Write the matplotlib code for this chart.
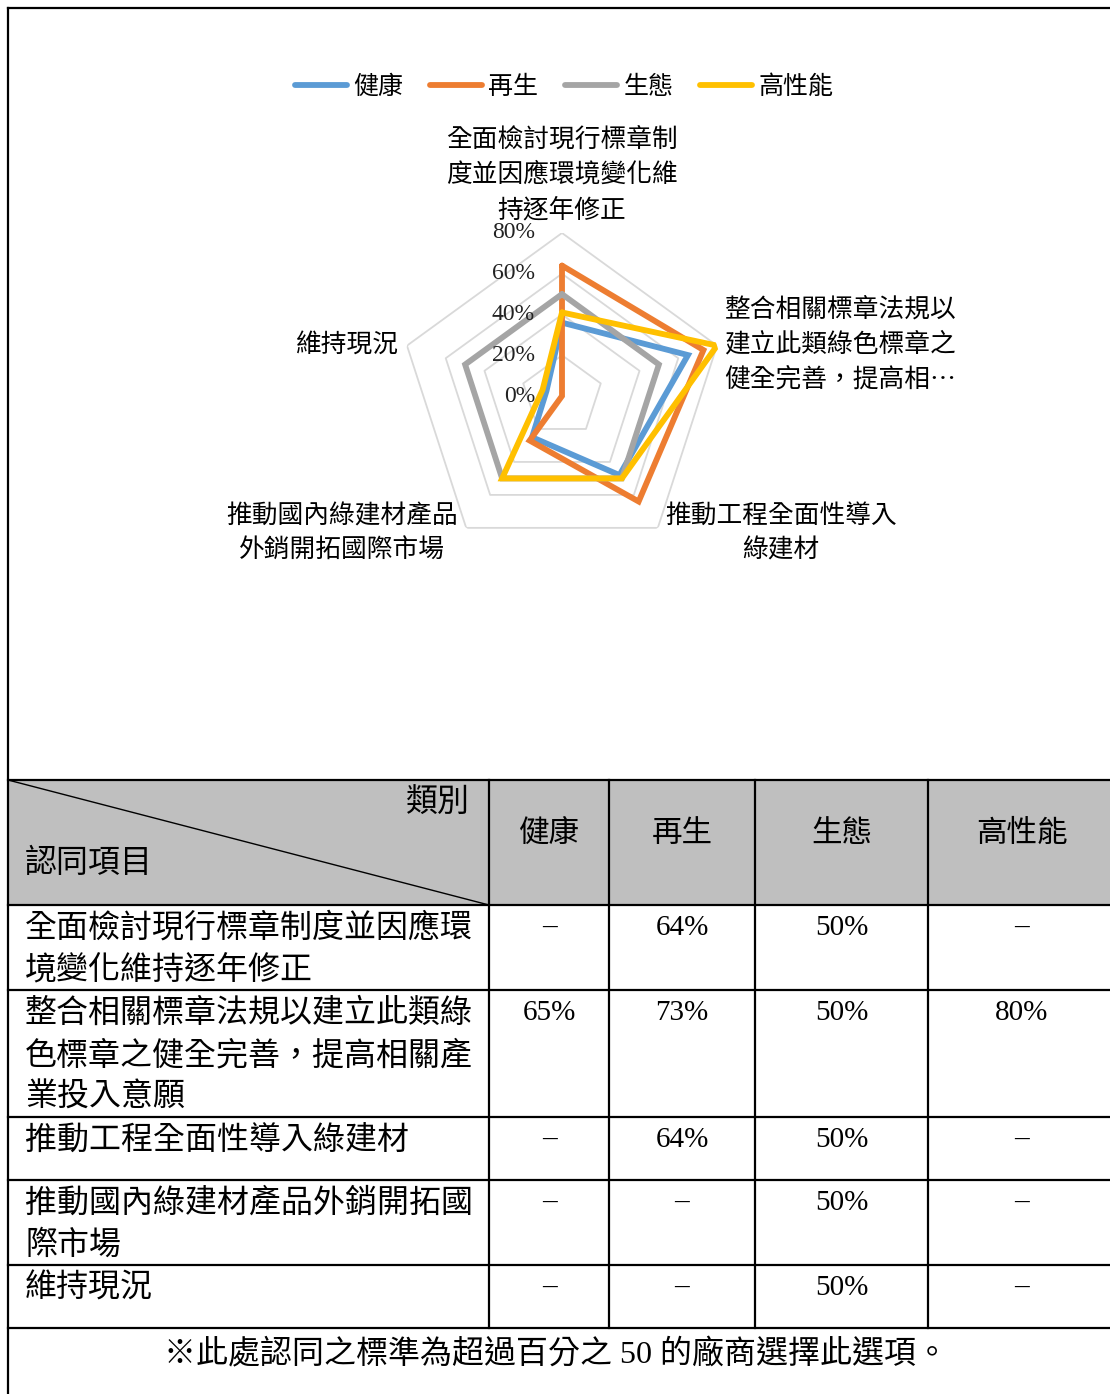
import numpy as np
import matplotlib
matplotlib.use("Agg")
import matplotlib.pyplot as plt
from matplotlib.patches import Rectangle
from matplotlib.lines import Line2D

# ---------------- data ----------------
categories = [
    "全面檢討現行標章制度並因應環境變化維持逐年修正",
    "整合相關標章法規以建立此類綠色標章之健全完善，提高相關產業投入意願",
    "推動工程全面性導入綠建材",
    "推動國內綠建材產品外銷開拓國際市場",
    "維持現況",
]
series_names = ["健康", "再生", "生態", "高性能"]
health = [0.36, 0.65, 0.48, 0.25, 0.08]
recycle = [0.64, 0.73, 0.64, 0.27, 0.00]
ecology = [0.50, 0.50, 0.50, 0.50, 0.50]
performance = [0.41, 0.80, 0.50, 0.50, 0.10]
series_colors = ["#5B9BD5", "#ED7D31", "#A5A5A5", "#FFC000"]
r_ticks = [0.0, 0.2, 0.4, 0.6, 0.8]
r_tick_labels = ["0%", "20%", "40%", "60%", "80%"]

radar_label_lines = [
    ["全面檢討現行標章制", "度並因應環境變化維", "持逐年修正"],
    ["整合相關標章法規以", "建立此類綠色標章之", "健全完善，提高相…"],
    ["推動工程全面性導入", "綠建材"],
    ["推動國內綠建材產品", "外銷開拓國際市場"],
    ["維持現況"],
]

table_corner_top = "類別"
table_corner_bottom = "認同項目"
table_col_headers = ["健康", "再生", "生態", "高性能"]
table_row_lines = [
    ["全面檢討現行標章制度並因應環", "境變化維持逐年修正"],
    ["整合相關標章法規以建立此類綠", "色標章之健全完善，提高相關產", "業投入意願"],
    ["推動工程全面性導入綠建材"],
    ["推動國內綠建材產品外銷開拓國", "際市場"],
    ["維持現況"],
]
table_health = ["–", "65%", "–", "–", "–"]
table_recycle = ["64%", "73%", "64%", "–", "–"]
table_ecology = ["50%", "50%", "50%", "50%", "50%"]
table_performance = ["–", "80%", "–", "–", "–"]
footnote = "※此處認同之標準為超過百分之 50 的廠商選擇此選項。"

# ---------------- figure ----------------
W, H = 1110, 1394
DPI = 100
fig = plt.figure(figsize=(W / DPI, H / DPI), dpi=DPI)
fig.patch.set_facecolor("white")

CJK = ["Noto Sans CJK TC", "DejaVu Sans"]
NUM = ["Liberation Serif", "DejaVu Serif"]
MIX = ["Liberation Serif", "Noto Sans CJK TC", "DejaVu Sans"]

# background axes in pixel coordinates
bg = fig.add_axes([0, 0, 1, 1], zorder=0)
bg.set_xlim(0, W)
bg.set_ylim(H, 0)
bg.axis("off")

# ---------------- radar ----------------
cx, cy, R = 562, 396, 163
rad = fig.add_axes([(cx - R) / W, (H - cy - R) / H, 2 * R / W, 2 * R / H],
                   projection="polar", zorder=2)
rad.patch.set_alpha(0)
rad.set_theta_offset(np.pi / 2)
rad.set_theta_direction(-1)
rad.set_ylim(0, 0.8)
rad.grid(False)
rad.spines["polar"].set_visible(False)
rad.set_xticks([])
rad.set_yticks([])

n = len(categories)
angles = np.linspace(0, 2 * np.pi, n, endpoint=False)
closed = np.concatenate([angles, angles[:1]])

for lv in r_ticks[1:]:
    rad.plot(closed, [lv] * (n + 1), color="#D9D9D9", lw=1.3, zorder=1)

for vals, col, name in zip([health, recycle, ecology, performance],
                           series_colors, series_names):
    v = np.array(vals + vals[:1])
    rad.plot(closed, v, color=col, lw=4.2, label=name, zorder=3,
             solid_joinstyle="miter", solid_capstyle="round")

for lv, lab in zip(r_ticks, r_tick_labels):
    rad.annotate(lab, xy=(0, lv), xytext=(-19.5, 0), textcoords="offset points",
                 ha="right", va="center", fontsize=17, family=NUM,
                 color="#222222", zorder=4, annotation_clip=False)

# category labels
lab_fs = 18.5
for i, t in enumerate(radar_label_lines[0]):
    bg.text(562, 140 + 35 * i, t, ha="center", va="center", fontsize=lab_fs, family=CJK)
for i, t in enumerate(radar_label_lines[1]):
    bg.text(724, 310 + 35 * i, t, ha="left", va="center", fontsize=lab_fs, family=CJK)
for i, t in enumerate(radar_label_lines[2]):
    bg.text(781, 516 + 35 * i, t, ha="center", va="center", fontsize=lab_fs, family=CJK)
for i, t in enumerate(radar_label_lines[3]):
    bg.text(342, 516 + 35 * i, t, ha="center", va="center", fontsize=lab_fs, family=CJK)
for i, t in enumerate(radar_label_lines[4]):
    bg.text(399, 345 + 35 * i, t, ha="right", va="center", fontsize=lab_fs, family=CJK)

# legend
handles = [Line2D([0], [0], color=c, lw=4.2, solid_capstyle="round") for c in series_colors]
fig.legend(handles, series_names, loc="center", bbox_to_anchor=(564 / W, 1 - 87 / H),
           ncol=4, frameon=False, prop={"family": CJK, "size": 18},
           handlelength=2.1, handletextpad=0.25, columnspacing=1.05)

# ---------------- frame and table ----------------
LW = 1.6
bg.plot([8, W], [8, 8], color="black", lw=LW)
bg.plot([8, 8], [8, H], color="black", lw=LW)

t_top, t_head = 780, 905
row_edges = [905, 990, 1117, 1180, 1265, 1328]
col_edges = [8, 489, 609, 755, 928, 1115]

bg.add_patch(Rectangle((8, t_top), W - 8, t_head - t_top, facecolor="#BFBFBF",
                       edgecolor="none", zorder=0))
for y in [t_top] + row_edges:
    bg.plot([8, W], [y, y], color="black", lw=LW)
for x in col_edges[1:-1]:
    bg.plot([x, x], [t_top, row_edges[-1]], color="black", lw=LW)
bg.plot([8, 489], [t_top, t_head], color="black", lw=1.0)

tfs = 23
bg.text(470, 802, table_corner_top, ha="right", va="center", fontsize=tfs, family=CJK)
bg.text(25, 863, table_corner_bottom, ha="left", va="center", fontsize=tfs, family=CJK)

col_centers = [(col_edges[i] + col_edges[i + 1]) / 2 for i in range(1, 5)]
for xc, h in zip(col_centers, table_col_headers):
    bg.text(xc, 833, h, ha="center", va="center", fontsize=22, family=CJK)

for r, lines in enumerate(table_row_lines):
    y0 = row_edges[r] + 23
    for i, t in enumerate(lines):
        bg.text(25, y0 + 42 * i, t, ha="left", va="center", fontsize=tfs, family=CJK)
    for xc, colvals in zip(col_centers, [table_health, table_recycle,
                                         table_ecology, table_performance]):
        bg.text(xc, y0, colvals[r], ha="center", va="center", fontsize=21, family=NUM)

bg.text(556, 1355, footnote, ha="center", va="center", fontsize=tfs, family=MIX)

fig.savefig("out.png", dpi=DPI, facecolor="white")
